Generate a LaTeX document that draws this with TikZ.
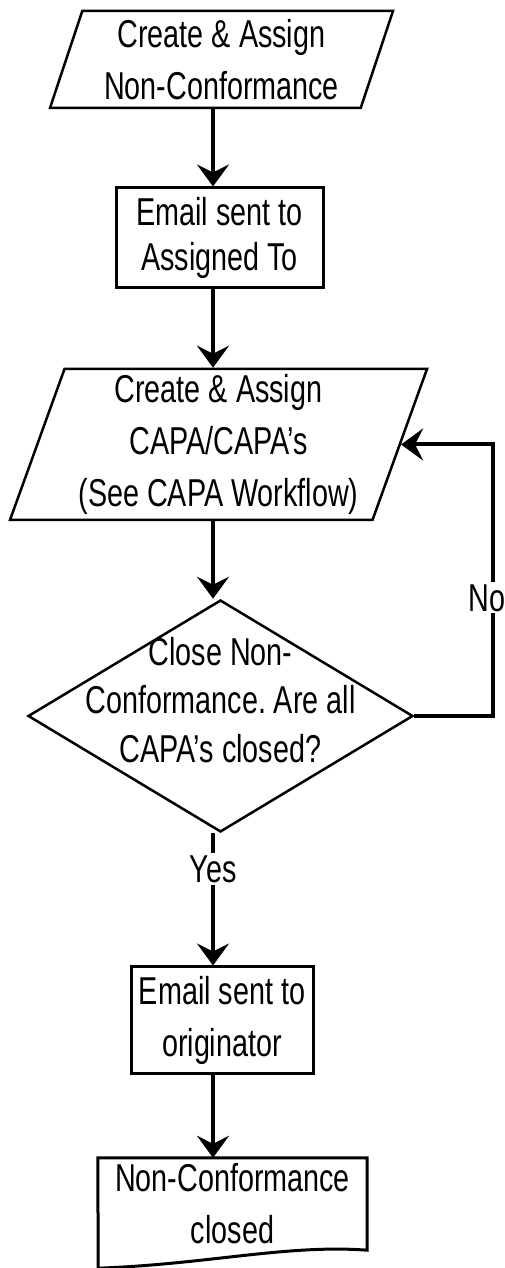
\documentclass[tikz,border=0pt]{standalone}
\usepackage{fontspec}
\newfontfamily\flowfont{Liberation Sans}[FakeStretch=0.74]
\usetikzlibrary{shapes.geometric,arrows.meta}

\begin{document}
\begin{tikzpicture}[x=1bp,y=1bp,
  every node/.style={font=\flowfont\fontsize{39}{52}\selectfont,align=center,inner sep=3bp},
  io/.style={draw,line width=2.5bp,trapezium,trapezium left angle=69.5,trapezium right angle=110.5,trapezium stretches body},
  proc/.style={draw,line width=3bp,rectangle},
  flow/.style={line width=4bp,-{Stealth[length=22bp,width=32bp,inset=8bp]}},
  lbl/.style={fill=white,inner sep=2bp}]
  \useasboundingbox (0bp,0bp) rectangle (505bp,1268bp);
  \coordinate (axis) at (213bp,0bp);
  \node (Create) at (221.5bp,1208.5bp) [io,minimum width=343bp,minimum height=97bp] {Create \& Assign\\Non-Conformance};
  \node (Email1) at (219.5bp,1030.0bp) [proc,minimum width=207bp,minimum height=100bp] {Email sent to\\[-7bp]Assigned To};
  \node (CAPA) at (218.5bp,823.5bp) [io,minimum width=417bp,minimum height=151bp] {Create \& Assign\\CAPA/CAPA’s\\(See CAPA Workflow)};
  \node (Close) at (220.5bp,552.0bp) [draw,line width=2.5bp,diamond,minimum width=385bp,minimum height=232bp,inner sep=0bp] {};
  \node (CloseText) at (220.5bp,568.0bp) {Close Non-\\[-3.5bp]Conformance.\ Are all\\[-3.5bp]CAPA’s closed?};
  \node (Email2) at (222.0bp,247.5bp) [proc,minimum width=182bp,minimum height=107bp] {Email sent to\\originator};
  \node (Closed) at (232.5bp,64.0bp) [minimum width=269bp,minimum height=92bp] {Non-Conformance\\closed};
  \draw [line width=3bp] (Closed.north west) -- (Closed.north east) -- (Closed.south east) .. controls +(-80bp,6bp) and +(110bp,4bp) .. ++(-269bp,-18bp) -- cycle;
  \draw [flow] (Create.south -| axis) -- (Email1.north -| axis);
  \draw [flow] (Email1.south -| axis) -- (CAPA.north -| axis);
  \draw [flow] (CAPA.south -| axis) -- (Close.north -| axis);
  \draw [flow] (Close.south -| axis) -- node [lbl,pos=0.27] {Yes} (Email2.north -| axis);
  \draw [flow] (Email2.south -| axis) -- (Closed.north -| axis);
  \draw [flow] (Close.east) -- ++(79bp,0bp) |- node [lbl,pos=0.2175,xshift=-6bp] {No} (CAPA.east);
\end{tikzpicture}
\end{document}
